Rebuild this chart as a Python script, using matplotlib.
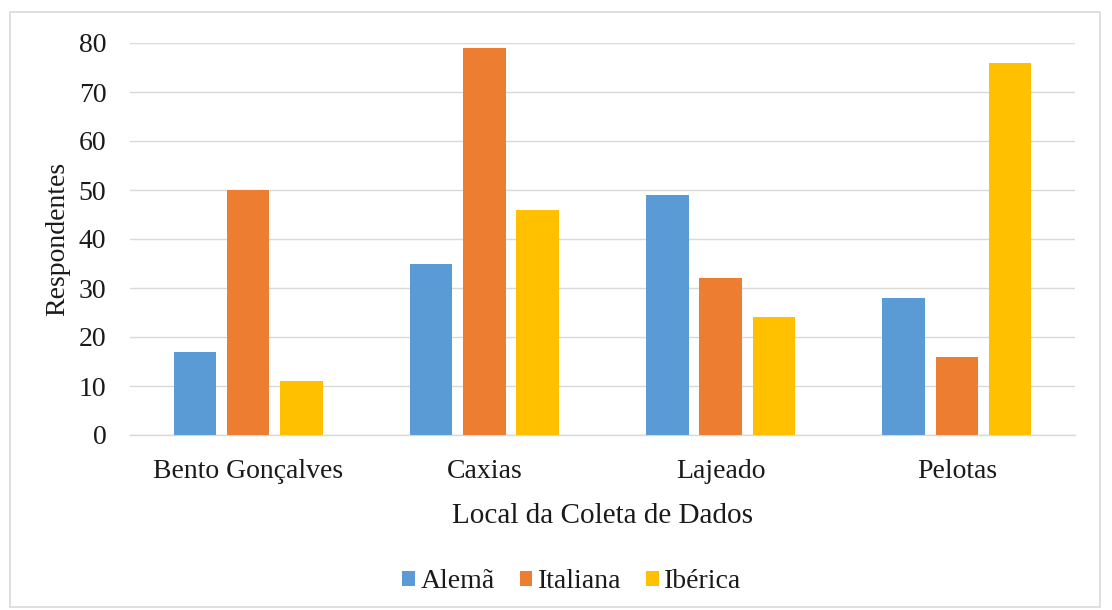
import numpy as np
import matplotlib.pyplot as plt
from matplotlib.patches import Rectangle

# data
locais = ["Bento Gonçalves", "Caxias", "Lajeado", "Pelotas"]
series_names = ["Alemã", "Italiana", "Ibérica"]
alema = [17, 35, 49, 28]
italiana = [50, 79, 32, 16]
iberica = [11, 46, 24, 76]
yticks = [0, 10, 20, 30, 40, 50, 60, 70, 80]

colors = ["#5B9BD5", "#ED7D31", "#FFC000"]
grid_color = "#D9D9D9"
text_color = "#1a1a1a"

plt.rcParams['font.family'] = ['Liberation Serif', 'DejaVu Serif']

fig = plt.figure(figsize=(11.12, 6.10), dpi=100)
ax = fig.add_axes([130 / 1112, 1 - 435 / 610, 945 / 1112, 392 / 610])

x = np.arange(len(locais))
width = 0.18
step = 0.225
for i, (vals, name) in enumerate(zip([alema, italiana, iberica], series_names)):
    ax.bar(x + (i - 1) * step, vals, width, color=colors[i], label=name, zorder=3)

ax.set_xlim(-0.5, len(locais) - 0.5)
ax.set_ylim(0, 80)
ax.set_yticks(yticks)
ax.set_yticklabels([str(t) for t in yticks], fontsize=20)
ax.set_xticks(x)
ax.set_xticklabels(locais, fontsize=20)
ax.tick_params(axis='both', length=0, colors=text_color)
ax.tick_params(axis='y', pad=17)
ax.tick_params(axis='x', pad=17)
ax.grid(axis='y', color=grid_color, linewidth=1.0, zorder=0)
for side in ["top", "right", "left"]:
    ax.spines[side].set_visible(False)
ax.spines["bottom"].set_color(grid_color)
ax.spines["bottom"].set_linewidth(1.0)

ax.set_ylabel("Respondentes", fontsize=20, color=text_color, labelpad=6)
ax.set_xlabel("Local da Coleta de Dados", fontsize=21, color=text_color, labelpad=14)

fig.legend(loc='center', bbox_to_anchor=(572 / 1112, 1 - 582 / 610), ncol=3,
           frameon=False, fontsize=20, handlelength=0.45, handleheight=0.45,
           handletextpad=0.2, columnspacing=0.9, labelcolor=text_color)

# light border around the chart area
fig.patches.append(Rectangle((10 / 1112, 0.005), 1090 / 1112, 1 - 12 / 610 - 0.005,
                             transform=fig.transFigure, fill=False,
                             edgecolor=grid_color, linewidth=1.2))

fig.savefig("out.png", dpi=100, facecolor='white')
